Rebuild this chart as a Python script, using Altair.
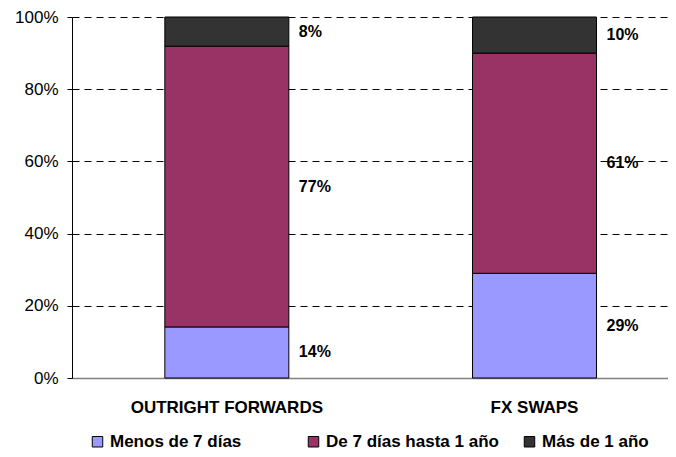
import altair as alt
import pandas as pd

categories = ["OUTRIGHT FORWARDS", "FX SWAPS"]
series = ["Menos de 7 días", "De 7 días hasta 1 año", "Más de 1 año"]
menos_7 = [14, 29]
de_7_a_1 = [77, 61]
mas_1 = [8, 10]
colors = ["#9999FF", "#993366", "#333333"]
y_ticks = [0, 0.2, 0.4, 0.6, 0.8, 1.0]

rows = []
for i, c in enumerate(categories):
    for j, (s, v) in enumerate(zip(series, [menos_7[i], de_7_a_1[i], mas_1[i]])):
        rows.append({"cat": c, "serie": s, "val": v, "ord": j, "label": f"{v}%"})
df = pd.DataFrame(rows)

FONT = "Liberation Sans"

base = alt.Chart(df).transform_stack(
    stack="val", groupby=["cat"], as_=["y0", "y1"], offset="normalize",
    sort=[alt.SortField("ord", order="ascending")]
).transform_calculate(mid="(datum.y0 + datum.y1) / 2")

xscale = alt.Scale(domain=categories, paddingInner=0.597, paddingOuter=0.267, align=0.565)
yscale = alt.Scale(domain=[0, 1], nice=False)

bars = base.mark_bar(stroke="black", strokeWidth=1).encode(
    x=alt.X("cat:N", sort=categories, scale=xscale, title=None,
            axis=alt.Axis(labelAngle=0, labelFont=FONT, labelFontSize=17, labelFontWeight="bold",
                          labelColor="black", labelPadding=21, ticks=False, labelLimit=400,
                          domainColor="#808080", domainWidth=1.5)),
    y=alt.Y("y0:Q", scale=yscale, title=None,
            axis=alt.Axis(values=y_ticks, format=".0%", labelFont=FONT, labelFontSize=17,
                          labelColor="black", labelPadding=9, tickColor="black", tickSize=5,
                          domainColor="black", grid=True, gridColor="black",
                          gridDash=[7, 5], gridWidth=1)),
    y2="y1:Q",
    color=alt.Color("serie:N", sort=series, scale=alt.Scale(domain=series, range=colors),
                    title=None,
                    legend=alt.Legend(orient="none", legendX=17, legendY=416, direction="horizontal",
                                      symbolType="square", symbolSize=110, symbolStrokeColor="black",
                                      symbolStrokeWidth=1, labelFont=FONT, labelFontSize=17,
                                      labelFontWeight="bold", labelColor="black", columnPadding=22,
                                      gridAlign="all", labelOffset=4, labelLimit=300)),
    order=alt.Order("ord:Q"),
)

labels = base.mark_text(align="left", baseline="middle", dx=72, font=FONT, fontSize=16,
                        fontWeight="bold", color="black").encode(
    x=alt.X("cat:N", sort=categories, scale=xscale),
    y=alt.Y("mid:Q", scale=yscale),
    text="label:N",
)

chart = (bars + labels).properties(
    width=596, height=361,
    autosize=alt.AutoSizeParams(type="none"),
    padding={"left": 64, "top": 9, "right": 0, "bottom": 74},
).configure_view(stroke=None)

chart.save("out.html", embed_options={"renderer": "svg", "actions": False})
